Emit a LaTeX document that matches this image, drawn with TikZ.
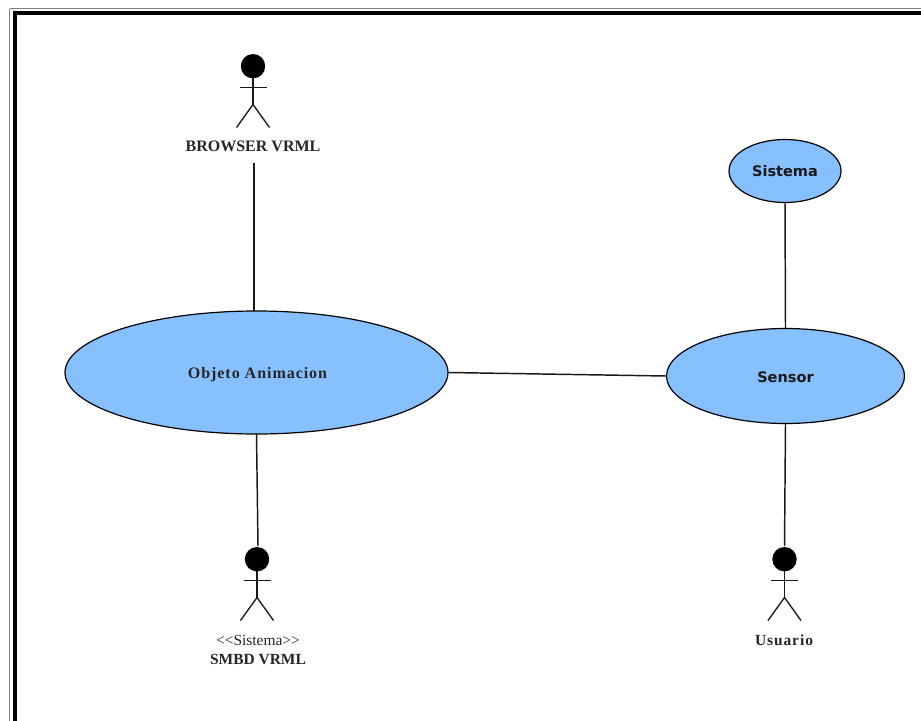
\documentclass[tikz,border=0pt]{standalone}
\usepackage{fontspec}
\setmainfont{Liberation Serif}
\newfontfamily\ucsans{DejaVu Sans}
\usetikzlibrary{shapes.geometric}
\definecolor{ucfill}{RGB}{135,192,255}
\tikzset{
  uc/.style={ellipse,draw=black,line width=0.9pt,fill=ucfill,inner sep=0pt},
  conn/.style={line width=1.1pt,draw=black!90},
  lbl/.style={inner sep=0pt,text=black!85,font=\bfseries\fontsize{12pt}{13pt}\selectfont},
  sanslbl/.style={font=\ucsans\bfseries\fontsize{10.9pt}{12pt}\selectfont,text=black!90},
  limb/.style={line width=1pt,draw=black!90}
}
\newcommand{\stick}[2]{%
  \fill[black] (#1,#2+12.2) circle (12.2*0.75pt);
  \draw[limb] (#1,#2+24) -- (#1,#2+52);
  \draw[limb] (#1-13.5,#2+33.5) -- (#1+13.5,#2+33.5);
  \draw[limb] (#1-16.5,#2+73.5) -- (#1,#2+50.5) -- (#1+16.5,#2+73.5);
}
\begin{document}
\begin{tikzpicture}[x=0.75pt,y=-0.75pt]
\useasboundingbox (0,0) rectangle (921,721);
\fill[white] (0,0) rectangle (921,721);
\draw[black!50,line width=0.75pt] (10,8.5) -- (921,8.5);
\draw[black!50,line width=0.75pt] (9.5,8.5) -- (9.5,721);
\draw[black,line width=3pt] (13,12.5) -- (921,12.5);
\draw[black,line width=3pt] (14.5,11) -- (14.5,721);
\node[uc,minimum width=383*0.75pt,minimum height=123*0.75pt] (obj) at (256.5,372.5) {};
\node[uc,minimum width=238*0.75pt,minimum height=95*0.75pt] (sen) at (785.5,376) {};
\node[uc,minimum width=112*0.75pt,minimum height=63*0.75pt] (sis) at (785,171) {};
\node[lbl,font=\bfseries\fontsize{12pt}{13pt}\selectfont\addfontfeature{LetterSpace=6}] (objt) at (257.5,374.5) {Objeto Animacion};
\node[inner sep=0pt,sanslbl] (sent) at (785.5,377) {Sensor};
\node[inner sep=0pt,sanslbl] (sist) at (785,171.5) {Sistema};
\stick{253}{54}
\stick{257}{547}
\stick{784.5}{547}
\node[lbl] (browser) at (253,146) {BROWSER VRML};
\node[inner sep=0pt,font=\fontsize{11.6pt}{12pt}\selectfont,text=black!85] (ster) at (258,640) {<{}<Sistema>{}>};
\node[lbl,font=\bfseries\fontsize{11.6pt}{13pt}\selectfont] (smbd) at (258,659) {SMBD VRML};
\node[lbl,font=\bfseries\fontsize{11.6pt}{13pt}\selectfont\addfontfeature{LetterSpace=6}] (usu) at (784,640) {Usuario};
\coordinate (bt) at (254,163);
\coordinate (st) at (258,546);
\coordinate (ut) at (784.5,546);
\draw[conn] (bt) -- (254,311);
\draw[conn] (256.5,434) -- (st);
\draw[conn] (obj.east) -- (sen.west);
\draw[conn] (sis.south) -- (sen.north);
\draw[conn] (sen.south) -- (ut);
\end{tikzpicture}
\end{document}
